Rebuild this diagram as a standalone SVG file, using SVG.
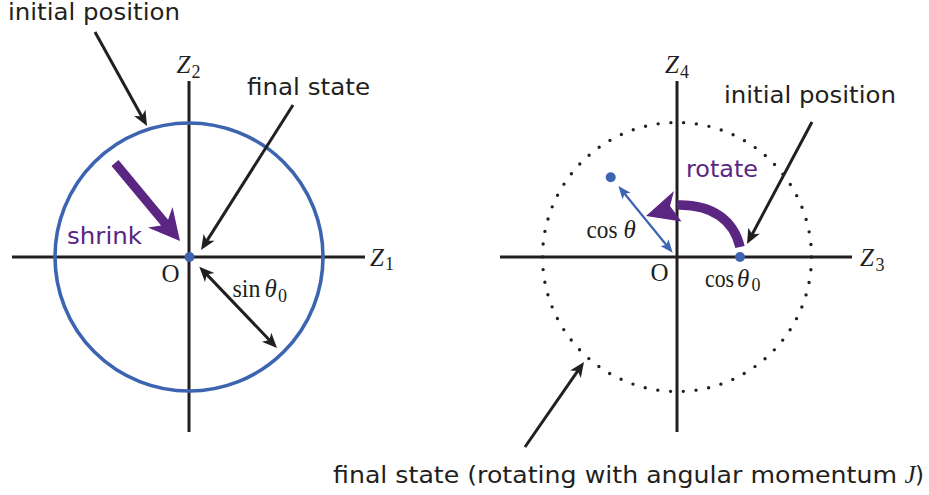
<svg xmlns="http://www.w3.org/2000/svg" width="929" height="495" viewBox="0 0 929 495">
  <style>
    .sans { font-family: "DejaVu Sans", "Liberation Sans", sans-serif; font-size: 23px; fill: #231f20; }
    .purple { fill: #5b2582; }
    .math { font-family: "Liberation Serif", "DejaVu Serif", serif; font-size: 25px; fill: #231f20; }
    .it { font-style: italic; }
    .sub { font-size: 18px; }
    .axis { stroke: #231f20; stroke-width: 3; fill: none; }
    .conn { stroke: #231f20; stroke-width: 3; fill: none; }
    .bconn { stroke: #3c64b1; stroke-width: 2.2; fill: none; }
  </style>
  <defs>
    <marker id="ah" viewBox="-6 -7 17 14" refX="0" refY="0" markerWidth="17" markerHeight="14" markerUnits="userSpaceOnUse" orient="auto-start-reverse">
      <path d="M10,0 L-5,-6.5 L-1,0 L-5,6.5 Z" fill="#231f20"/>
    </marker>
    <marker id="bh" viewBox="-6 -6 15 12" refX="0" refY="0" markerWidth="15" markerHeight="12" markerUnits="userSpaceOnUse" orient="auto-start-reverse">
      <path d="M8,0 L-5,-5.2 L-2,0 L-5,5.2 Z" fill="#3c64b1"/>
    </marker>
  </defs>
  <rect width="929" height="495" fill="#ffffff"/>

  <!-- Left diagram -->
  <g id="left-axes">
    <line class="axis" x1="12" y1="257" x2="365" y2="257"/>
    <line class="axis" x1="189" y1="81" x2="189" y2="432"/>
  </g>
  <g id="left-circle">
    <circle cx="189" cy="257" r="134" fill="none" stroke="#3c64b1" stroke-width="3.6"/>
  </g>
  <g id="left-origin">
    <circle cx="189.5" cy="257" r="5" fill="#3c64b1"/>
    <text class="math" x="161.5" y="281.7">O</text>
  </g>
  <g id="label-z2">
    <text class="math" x="176.5" y="72.7"><tspan class="it">Z</tspan><tspan class="sub" x="191.5" y="77.5">2</tspan></text>
  </g>
  <g id="label-z1">
    <text class="math" x="370" y="265.5"><tspan class="it">Z</tspan><tspan class="sub" x="385" y="270">1</tspan></text>
  </g>
  <g id="label-initial-left">
    <text class="sans" x="8" y="19.5" textLength="172" lengthAdjust="spacingAndGlyphs">initial position</text>
  </g>
  <g id="label-final-left">
    <text class="sans" x="247" y="95" textLength="123" lengthAdjust="spacingAndGlyphs">final state</text>
  </g>
  <g id="shrink">
    <polygon class="purple" points="118.5,160.1 168.1,219.7 172.5,207.0 180,241 147.9,227.4 161.1,225.5 111.5,165.9"/>
    <text class="sans purple" x="67" y="244" textLength="75" lengthAdjust="spacingAndGlyphs">shrink</text>
  </g>
  <g id="label-sin">
    <text class="math" x="232.5" y="297" textLength="28" lengthAdjust="spacingAndGlyphs">sin</text>
    <text class="math it" x="264.5" y="297">θ</text>
    <text class="math sub" x="278" y="301.5">0</text>
  </g>

  <!-- Right diagram -->
  <g id="right-axes">
    <line class="axis" x1="500" y1="257" x2="852" y2="257"/>
    <line class="axis" x1="677" y1="81" x2="677" y2="432"/>
  </g>
  <g id="right-dotted-circle">
    <circle cx="677" cy="257" r="134.5" fill="none" stroke="#231f20" stroke-width="3.4" stroke-linecap="round" stroke-dasharray="0 12.804"/>
  </g>
  <g id="right-origin">
    <text class="math" x="650.5" y="280.7">O</text>
  </g>
  <g id="dot-initial">
    <circle cx="740" cy="257" r="5" fill="#3c64b1"/>
  </g>
  <g id="dot-rotated">
    <circle cx="610.7" cy="177.3" r="5" fill="#3c64b1"/>
  </g>
  <g id="label-z4">
    <text class="math" x="665" y="72.7"><tspan class="it">Z</tspan><tspan class="sub" x="680" y="77.5">4</tspan></text>
  </g>
  <g id="label-z3">
    <text class="math" x="860" y="266"><tspan class="it">Z</tspan><tspan class="sub" x="875.5" y="270.5">3</tspan></text>
  </g>
  <g id="label-initial-right">
    <text class="sans" x="724" y="103.3" textLength="172" lengthAdjust="spacingAndGlyphs">initial position</text>
  </g>
  <g id="rotate">
    <path d="M740,247 C734,221 713,204 677,205" fill="none" stroke="#5b2582" stroke-width="9.5"/>
    <polygon class="purple" points="646,216 674,191 670,206 681.5,221.5"/>
    <text class="sans purple" x="686" y="176.7" textLength="72" lengthAdjust="spacingAndGlyphs">rotate</text>
  </g>
  <g id="label-cos">
    <text class="math" x="586.5" y="238.3" textLength="31" lengthAdjust="spacingAndGlyphs">cos</text>
    <text class="math it" x="623.5" y="238.3">θ</text>
  </g>
  <g id="label-cos0">
    <text class="math" x="705" y="286.7" textLength="29" lengthAdjust="spacingAndGlyphs">cos</text>
    <text class="math it" x="737" y="286.7">θ</text>
    <text class="math sub" x="751.5" y="291">0</text>
  </g>
  <g id="label-final-right">
    <text class="sans" x="333" y="483" textLength="564" lengthAdjust="spacingAndGlyphs">final state (rotating with angular momentum</text>
    <text class="math it" x="904.5" y="483">J</text>
    <text class="sans" x="915" y="483">)</text>
  </g>

  <!-- Connectors -->
  <g id="connectors">
    <line class="conn" x1="95" y1="32" x2="142.2" y2="117.2" marker-end="url(#ah)"/>
    <line class="conn" x1="293" y1="105" x2="206.4" y2="241.6" marker-end="url(#ah)"/>
    <line class="conn" x1="206.2" y1="273.9" x2="270.1" y2="340.8" marker-start="url(#ah)" marker-end="url(#ah)"/>
    <line class="conn" x1="812" y1="122" x2="751.7" y2="235.2" marker-end="url(#ah)"/>
    <line class="conn" x1="525" y1="447" x2="578.3" y2="370.2" marker-end="url(#ah)"/>
    <line class="bconn" x1="623.4" y1="192.2" x2="667.6" y2="246.5" marker-start="url(#bh)" marker-end="url(#bh)"/>
  </g>
</svg>
